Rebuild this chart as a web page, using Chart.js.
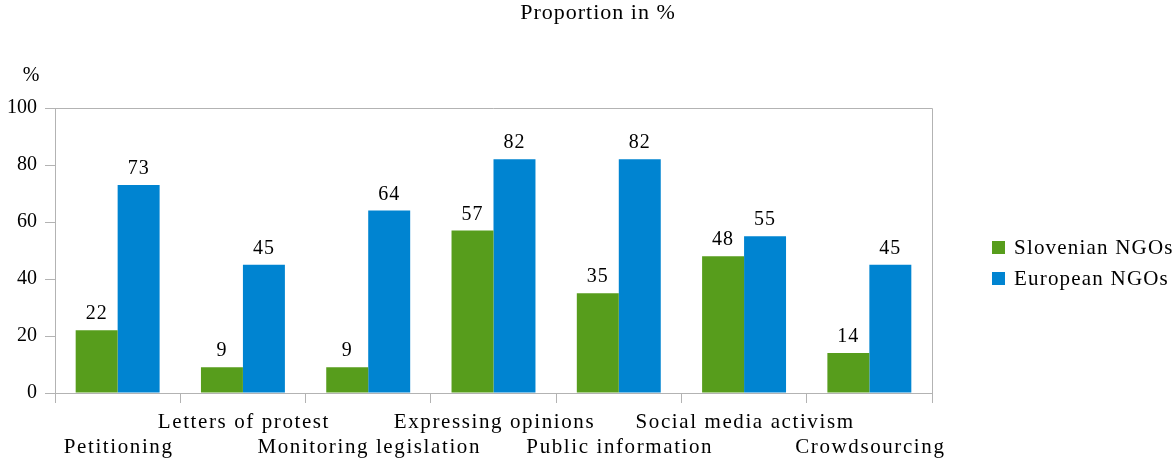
<!DOCTYPE html>
<html>
<head>
<meta charset="utf-8">
<script src="https://cdn.jsdelivr.net/npm/chart.js@4/dist/chart.umd.min.js"></script>
<style>
  html, body { margin: 0; padding: 0; background: #fff; }
  #wrap { width: 1176px; height: 459px; position: relative; }
</style>
</head>
<body>
<div id="wrap"><canvas id="ngoChart"></canvas></div>
<script>
// Activities and shares of NGOs using them
const activities = ['Petitioning', 'Letters of protest', 'Monitoring legislation', 'Expressing opinions',
    'Public information', 'Social media activism', 'Crowdsourcing'];
const slovenianNGOs = [22, 9, 9, 57, 35, 48, 14];
const europeanNGOs = [73, 45, 64, 82, 82, 55, 45];
const seriesNames = ['Slovenian NGOs', 'European NGOs'];
const yTicks = [0, 20, 40, 60, 80, 100];

const serif = "'Liberation Serif', 'Times New Roman', serif";
const axisGrey = '#b3b3b3';

// Text that needs letter spacing is drawn here (setting ctx.font drops letterSpacing,
// so Chart.js' own tick labels can't carry it)
const extrasPlugin = {
    id: 'extras',
    afterDatasetsDraw(chart) {
        const ctx = chart.ctx;
        const area = chart.chartArea;
        const xScale = chart.scales.x;
        ctx.save();
        ctx.fillStyle = '#000';

        // value labels above each bar
        ctx.font = '20px ' + serif;
        ctx.letterSpacing = '1px';
        ctx.textAlign = 'center';
        ctx.textBaseline = 'alphabetic';
        chart.data.datasets.forEach((ds, di) => {
            chart.getDatasetMeta(di).data.forEach((bar, i) => {
                ctx.fillText(String(ds.data[i]), bar.x, bar.y - 11);
            });
        });

        // category names, alternating between two rows
        ctx.font = '21px ' + serif;
        ctx.letterSpacing = '1.6px';
        ctx.textBaseline = 'middle';
        activities.forEach((name, i) => {
            const y = area.bottom + (i % 2 === 0 ? 54 : 29);
            ctx.fillText(name, xScale.getPixelForTick(i) + 1, y);
        });

        // unit label above the value axis
        ctx.font = '20px ' + serif;
        ctx.letterSpacing = '0px';
        ctx.fillText('%', area.left - 24, area.top - 32);

        // chart title
        ctx.font = '22px ' + serif;
        ctx.letterSpacing = '1px';
        ctx.fillText('Proportion in %', 598, 13);

        // top and right edges of the plot frame
        ctx.strokeStyle = axisGrey;
        ctx.lineWidth = 1;
        ctx.beginPath();
        ctx.moveTo(area.left, area.top + 0.5);
        ctx.lineTo(area.right + 0.5, area.top + 0.5);
        ctx.lineTo(area.right + 0.5, area.bottom);
        ctx.stroke();

        // legend
        ctx.font = '21px ' + serif;
        ctx.letterSpacing = '1.2px';
        ctx.textAlign = 'left';
        chart.data.datasets.forEach((ds, di) => {
            const y = 248 + di * 31;
            ctx.fillStyle = ds.backgroundColor;
            ctx.fillRect(992, y - 7, 13, 13);
            ctx.fillStyle = '#000';
            ctx.fillText(ds.label, 1014, y);
        });
        ctx.restore();
    }
};

const ctx = document.getElementById('ngoChart').getContext('2d');
new Chart(ctx, {
    type: 'bar',
    data: {
        labels: activities,
        datasets: [
            { label: seriesNames[0], data: slovenianNGOs, backgroundColor: '#579d1c' },
            { label: seriesNames[1], data: europeanNGOs, backgroundColor: '#0084d1' }
        ]
    },
    options: {
        responsive: true,
        maintainAspectRatio: false,
        animation: false,
        layout: { padding: { left: 0, right: 244, top: 108, bottom: 0 } },
        datasets: {
            bar: { categoryPercentage: 0.67, barPercentage: 1.0, borderWidth: 0 }
        },
        plugins: {
            legend: { display: false },
            tooltip: { enabled: false },
            title: { display: false }
        },
        scales: {
            x: {
                grid: { display: true, drawOnChartArea: false, offset: true, color: axisGrey, tickLength: 10 },
                border: { color: axisGrey },
                afterFit: s => { s.height = 66; },
                ticks: { display: false, autoSkip: false }
            },
            y: {
                min: 0,
                max: 100,
                grid: { display: true, drawOnChartArea: false, color: axisGrey, tickLength: 10 },
                border: { color: axisGrey },
                afterFit: s => { s.width = 55; },
                afterBuildTicks: s => { s.ticks = yTicks.map(v => ({ value: v })); },
                ticks: {
                    padding: 8,
                    color: '#000',
                    font: { family: serif, size: 20 }
                }
            }
        }
    },
    plugins: [extrasPlugin]
});
</script>
</body>
</html>
